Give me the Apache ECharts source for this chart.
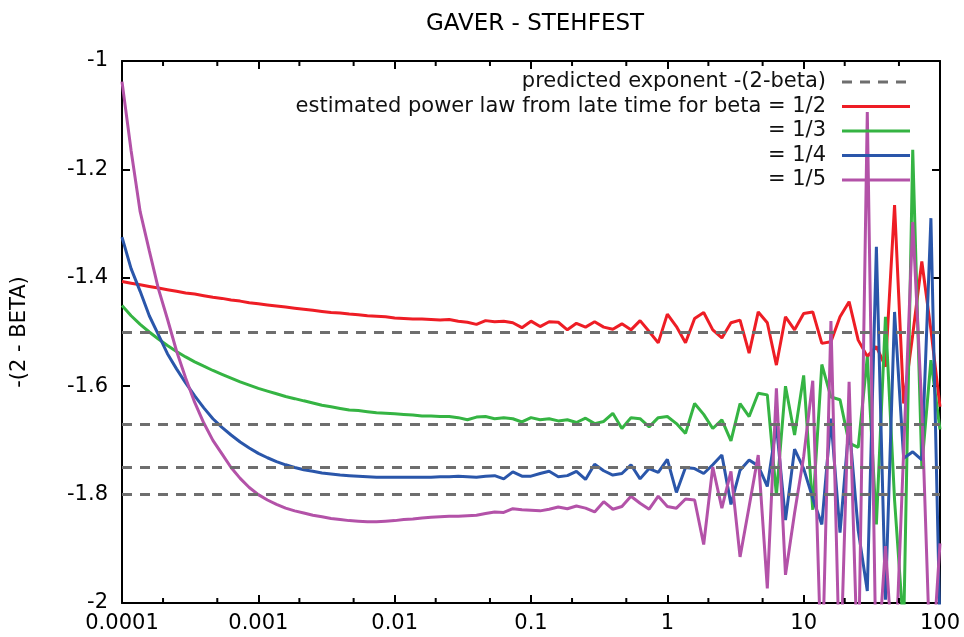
<!DOCTYPE html>
<html lang="en">
<head>
    <meta charset="utf-8"/>
    <title>GAVER - STEHFEST</title>
    <style>
        body { margin: 0; background: #fff; }
        #chartContainer { width: 964px; height: 637px; }
    </style>
</head>
<body>

<div id="chartContainer"></div>

<script src="https://cdn.jsdelivr.net/npm/echarts/dist/echarts.min.js"></script>
<script>

    // time grid, 15 points per decade
    var times = [
        1e-4, 1.166e-4, 1.359e-4, 1.585e-4, 1.848e-4, 2.154e-4, 2.512e-4, 2.929e-4, 3.415e-4, 3.981e-4, 4.642e-4, 5.412e-4, 6.310e-4, 7.356e-4, 8.577e-4,
        1e-3, 1.166e-3, 1.359e-3, 1.585e-3, 1.848e-3, 2.154e-3, 2.512e-3, 2.929e-3, 3.415e-3, 3.981e-3, 4.642e-3, 5.412e-3, 6.310e-3, 7.356e-3, 8.577e-3,
        1e-2, 1.166e-2, 1.359e-2, 1.585e-2, 1.848e-2, 2.154e-2, 2.512e-2, 2.929e-2, 3.415e-2, 3.981e-2, 4.642e-2, 5.412e-2, 6.310e-2, 7.356e-2, 8.577e-2,
        0.1, 0.1166, 0.1359, 0.1585, 0.1848, 0.2154, 0.2512, 0.2929, 0.3415, 0.3981, 0.4642, 0.5412, 0.6310, 0.7356, 0.8577,
        1, 1.166, 1.359, 1.585, 1.848, 2.154, 2.512, 2.929, 3.415, 3.981, 4.642, 5.412, 6.310, 7.356, 8.577,
        10, 11.66, 13.59, 15.85, 18.48, 21.54, 25.12, 29.29, 34.15, 39.81, 46.42, 54.12, 63.10, 73.56, 85.77,
        100
    ];

    var beta2 = [
        -1.407,-1.410,-1.413,-1.416,-1.419,-1.422,-1.425,-1.428,-1.430,-1.433,-1.436,-1.438,-1.441,-1.443,-1.446,
        -1.448,-1.450,-1.452,-1.454,-1.456,-1.458,-1.460,-1.462,-1.464,-1.465,-1.467,-1.468,-1.470,-1.471,-1.472,
        -1.474,-1.475,-1.476,-1.476,-1.477,-1.478,-1.477,-1.480,-1.482,-1.486,-1.479,-1.481,-1.480,-1.483,-1.492,
        -1.480,-1.490,-1.481,-1.482,-1.496,-1.484,-1.491,-1.481,-1.491,-1.495,-1.485,-1.496,-1.479,-1.499,-1.520,
        -1.467,-1.490,-1.520,-1.475,-1.464,-1.496,-1.511,-1.483,-1.478,-1.539,-1.463,-1.483,-1.561,-1.472,-1.496,
        -1.466,-1.463,-1.521,-1.518,-1.472,-1.444,-1.515,-1.545,-1.527,-1.564,-1.266,-1.632,-1.505,-1.370,-1.496,
        -1.638
    ];

    var beta3 = [
        -1.451,-1.470,-1.486,-1.500,-1.513,-1.525,-1.536,-1.546,-1.555,-1.563,-1.571,-1.578,-1.585,-1.592,-1.598,
        -1.604,-1.609,-1.614,-1.619,-1.623,-1.627,-1.631,-1.635,-1.638,-1.641,-1.644,-1.645,-1.647,-1.649,-1.650,
        -1.651,-1.652,-1.653,-1.655,-1.655,-1.656,-1.656,-1.658,-1.662,-1.657,-1.656,-1.660,-1.658,-1.660,-1.666,
        -1.658,-1.662,-1.660,-1.664,-1.662,-1.667,-1.659,-1.669,-1.665,-1.650,-1.678,-1.658,-1.660,-1.675,-1.658,
        -1.656,-1.669,-1.687,-1.632,-1.652,-1.678,-1.662,-1.701,-1.632,-1.656,-1.613,-1.616,-1.801,-1.600,-1.690,
        -1.580,-1.828,-1.560,-1.620,-1.625,-1.705,-1.713,-1.546,-1.855,-1.472,-1.810,-2.050,-1.164,-1.749,-1.552,
        -1.680
    ];

    var beta4 = [
        -1.325,-1.383,-1.425,-1.470,-1.505,-1.540,-1.568,-1.594,-1.618,-1.640,-1.660,-1.676,-1.690,-1.703,-1.714,
        -1.724,-1.732,-1.739,-1.745,-1.750,-1.754,-1.757,-1.760,-1.762,-1.764,-1.765,-1.766,-1.767,-1.768,-1.768,
        -1.768,-1.768,-1.768,-1.768,-1.768,-1.767,-1.767,-1.766,-1.767,-1.768,-1.766,-1.765,-1.771,-1.758,-1.766,
        -1.766,-1.761,-1.757,-1.767,-1.765,-1.757,-1.772,-1.744,-1.756,-1.764,-1.761,-1.745,-1.771,-1.752,-1.759,
        -1.735,-1.796,-1.750,-1.752,-1.761,-1.745,-1.727,-1.818,-1.755,-1.736,-1.747,-1.785,-1.672,-1.847,-1.716,
        -1.752,-1.807,-1.855,-1.660,-1.870,-1.670,-1.866,-1.978,-1.343,-1.994,-1.463,-1.733,-1.721,-1.736,-1.290,
        -2.050
    ];

    var beta5 = [
        -1.038,-1.165,-1.278,-1.350,-1.420,-1.476,-1.535,-1.585,-1.630,-1.668,-1.700,-1.725,-1.750,-1.770,-1.787,
        -1.800,-1.810,-1.818,-1.825,-1.830,-1.834,-1.838,-1.841,-1.844,-1.846,-1.848,-1.849,-1.850,-1.850,-1.849,
        -1.848,-1.846,-1.845,-1.843,-1.842,-1.841,-1.840,-1.840,-1.839,-1.838,-1.835,-1.832,-1.833,-1.826,-1.828,
        -1.829,-1.830,-1.827,-1.823,-1.826,-1.821,-1.825,-1.832,-1.813,-1.827,-1.822,-1.803,-1.816,-1.827,-1.803,
        -1.822,-1.825,-1.808,-1.810,-1.892,-1.749,-1.825,-1.757,-1.915,-1.822,-1.727,-1.973,-1.604,-1.948,-1.834,
        -1.730,-1.590,-2.150,-1.480,-2.150,-1.592,-2.150,-1.094,-2.150,-1.895,-2.150,-1.720,-1.297,-1.640,-2.150,
        -1.890
    ];

    // predicted exponents -(2-beta) for beta = 1/2, 1/3, 1/4, 1/5
    var predicted = [-1.5, -5/3, -1.75, -1.8];

    var xTickLabels = ['0.0001', '0.001', '0.01', '0.1', '1', '10', '100'];
    var xMinorTicks = [2e-4, 5e-4, 2e-3, 5e-3, 2e-2, 5e-2, 0.2, 0.5, 2, 5, 20, 50];

    var legendNames = [
        'predicted exponent -(2-beta)',
        'estimated power law from late time for beta = 1/2',
        '= 1/3',
        '= 1/4',
        '= 1/5'
    ];

    var colors = ['#6e6e6e', '#ee1d25', '#35b443', '#2a56aa', '#b352a8'];
    var FONT = 'DejaVu Sans';

    function pairs(ys) {
        var out = [];
        for (var i = 0; i < ys.length; i++) {
            out.push([times[i], ys[i]]);
        }
        return out;
    }

    function lineSeries(name, ys, color) {
        return {
            name: name,
            type: 'line',
            data: pairs(ys),
            showSymbol: false,
            symbol: 'none',
            clip: true,
            lineStyle: { color: color, width: 3 },
            animation: false
        };
    }

    function legendGraphics() {
        var items = [];
        var y0 = 82, step = 24.5;
        for (var i = 0; i < legendNames.length; i++) {
            var y = y0 + step * i;
            items.push({
                type: 'text',
                x: 826, y: y,
                style: {
                    text: legendNames[i],
                    textAlign: 'right',
                    textVerticalAlign: 'middle',
                    font: '21px "' + FONT + '"',
                    fill: '#111'
                },
                z: 100
            });
            items.push({
                type: 'line',
                shape: { x1: 842, y1: y, x2: 910, y2: y },
                style: {
                    stroke: colors[i],
                    lineWidth: 3,
                    lineDash: i === 0 ? [10, 8] : null
                },
                z: 100
            });
        }
        return items;
    }

    function axisCommon() {
        return {
            axisLine: { onZero: false, lineStyle: { color: '#000', width: 2 } },
            axisTick: { inside: true, length: 8, lineStyle: { color: '#000', width: 2 } },
            splitLine: { show: false }
        };
    }

    function xAxisDef(pos, showLabel) {
        var a = axisCommon();
        a.type = 'log';
        a.logBase = 10;
        a.min = 1e-4;
        a.max = 100;
        a.position = pos;
        a.axisLabel = {
            show: showLabel,
            fontFamily: FONT,
            fontSize: 21,
            color: '#000',
            margin: 10,
            formatter: function (v) {
                var k = Math.round(Math.log(v) / Math.LN10) + 4;
                return xTickLabels[k];
            }
        };
        return a;
    }

    function yAxisDef(pos, showLabel) {
        var a = axisCommon();
        a.type = 'value';
        a.min = -2;
        a.max = -1;
        a.interval = 0.2;
        a.position = pos;
        a.axisLabel = {
            show: showLabel,
            fontFamily: FONT,
            fontSize: 21,
            color: '#000',
            margin: 14,
            formatter: function (v) { return String(Math.round(v * 10) / 10); }
        };
        return a;
    }

    function load_chart(id) {
        var dom = document.getElementById(id);
        var myChart = echarts.init(dom);

        var yLeft = yAxisDef('left', true);
        yLeft.name = '-(2 - BETA)';
        yLeft.nameLocation = 'middle';
        yLeft.nameGap = 92;
        yLeft.nameRotate = 90;
        yLeft.nameTextStyle = { fontFamily: FONT, fontSize: 21, color: '#000' };

        var option = {
            backgroundColor: '#ffffff',
            animation: false,
            title: {
                text: 'GAVER - STEHFEST',
                left: 530,
                top: 8,
                textAlign: 'center',
                textStyle: { fontFamily: FONT, fontSize: 23, fontWeight: 'normal', color: '#000' }
            },
            grid: { left: 122, right: 24, top: 61, bottom: 34, containLabel: false },
            xAxis: [xAxisDef('bottom', true), xAxisDef('top', false)],
            yAxis: [yLeft, yAxisDef('right', false)],
            graphic: legendGraphics(),
            series: [
                {
                    name: legendNames[0],
                    type: 'line',
                    data: [],
                    markLine: {
                        silent: true,
                        symbol: 'none',
                        label: { show: false },
                        lineStyle: { color: colors[0], width: 3, type: [10, 8] },
                        data: predicted.map(function (v) { return { yAxis: v }; })
                    }
                },
                lineSeries(legendNames[1], beta2, colors[1]),
                lineSeries(legendNames[2], beta3, colors[2]),
                lineSeries(legendNames[3], beta4, colors[3]),
                lineSeries(legendNames[4], beta5, colors[4]),
                {
                    // gnuplot style minor ticks at 2 and 5, bottom and top
                    type: 'custom',
                    silent: true,
                    data: xMinorTicks.map(function (v) { return [v, -1.5]; }),
                    encode: { x: 0, y: 1 },
                    renderItem: function (params, api) {
                        var b = api.coord([api.value(0), -2]);
                        var t = api.coord([api.value(0), -1]);
                        var st = { stroke: '#000', lineWidth: 2 };
                        return {
                            type: 'group',
                            children: [
                                { type: 'line', shape: { x1: b[0], y1: b[1], x2: b[0], y2: b[1] - 5 }, style: st },
                                { type: 'line', shape: { x1: t[0], y1: t[1], x2: t[0], y2: t[1] + 5 }, style: st }
                            ]
                        };
                    },
                    z: 10
                }
            ]
        };

        myChart.setOption(option, true);
    }

    load_chart('chartContainer');

</script>
</body>
</html>
